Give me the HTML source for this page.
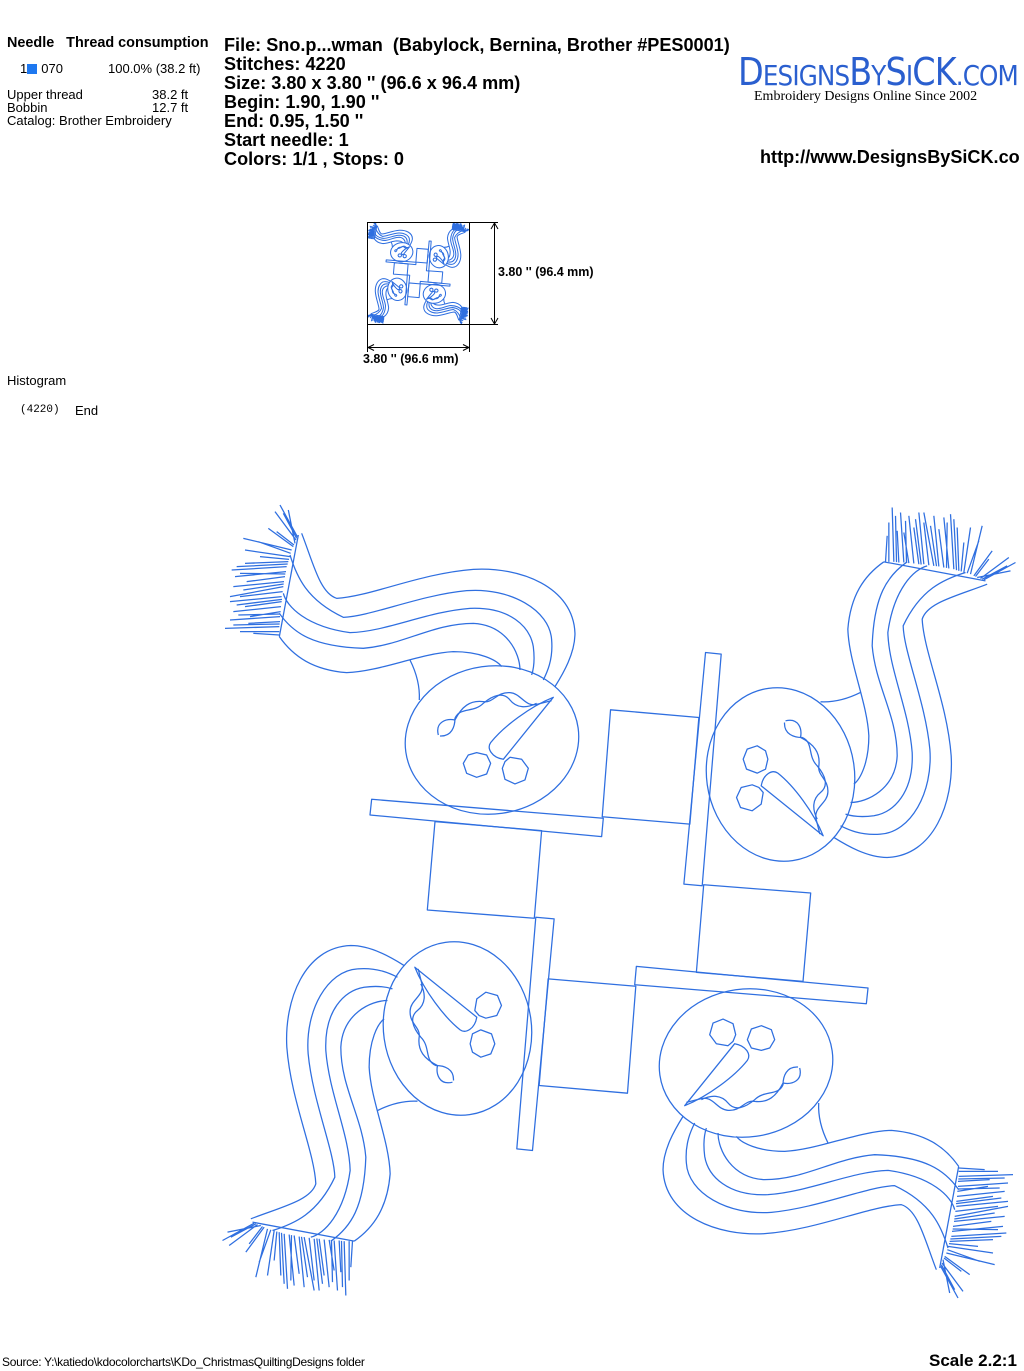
<!DOCTYPE html>
<html><head><meta charset="utf-8"><style>
body{margin:0;width:1024px;height:1370px;background:#fff;position:relative;overflow:hidden;font-family:"Liberation Sans",Arial,sans-serif;color:#000}
.a{position:absolute;white-space:nowrap}
.h{font-weight:bold;font-size:18.1px;line-height:19px}
.s{font-size:13px;line-height:13px}
</style></head><body>
<div class="a" style="left:7px;top:35px;font-size:14.4px;font-weight:bold">Needle&nbsp;&nbsp;&nbsp;Thread consumption</div>
<div class="a s" style="left:20px;top:62px">1<span style="display:inline-block;width:10px;height:10px;background:#1e78f0;vertical-align:-1px;margin-right:4px"></span>070</div>
<div class="a s" style="left:108px;top:62px">100.0% (38.2 ft)</div>
<div class="a s" style="left:7px;top:88px">Upper thread</div>
<div class="a s" style="left:152px;top:88px">38.2 ft</div>
<div class="a s" style="left:7px;top:101px">Bobbin</div>
<div class="a s" style="left:152px;top:101px">12.7 ft</div>
<div class="a s" style="left:7px;top:114px">Catalog: Brother Embroidery</div>

<div class="a h" style="left:224px;top:36px">File: Sno.p...wman&nbsp; (Babylock, Bernina, Brother #PES0001)<br>Stitches: 4220<br>Size: 3.80 x 3.80 '' (96.6 x 96.4 mm)<br>Begin: 1.90, 1.90 ''<br>End: 0.95, 1.50 ''<br>Start needle: 1<br>Colors: 1/1 , Stops: 0</div>

<div class="a" style="left:738px;top:50px;font-size:38px;color:#2a5fcf;font-family:'DejaVu Sans',sans-serif;letter-spacing:-1px;transform:scaleX(0.88);transform-origin:left">D<span style="font-size:28px">ESIGNS</span>B<span style="font-size:28px">Y</span>S<span style="font-size:28px">I</span>CK<span style="font-size:28px">.COM</span></div>
<div class="a" style="left:754px;top:89px;font-size:14px;font-family:'Liberation Serif',serif">Embroidery Designs Online Since 2002</div>
<div class="a h" style="left:760px;top:148px">http://www.DesignsBySiCK.co</div>

<div class="a" style="left:7px;top:373px;font-size:13px">Histogram</div>
<div class="a" style="left:20px;top:404px;font-size:11px;font-family:'Liberation Mono',monospace">(4220)</div>
<div class="a" style="left:75px;top:403px;font-size:13px">End</div>

<div class="a" style="left:498px;top:265px;font-size:12.5px;font-weight:bold">3.80 '' (96.4 mm)</div>
<div class="a" style="left:363px;top:352px;font-size:12.5px;font-weight:bold">3.80 '' (96.6 mm)</div>

<div class="a" style="left:2px;top:1355px;font-size:12px;letter-spacing:-0.3px">Source: Y:\katiedo\kdocolorcharts\KDo_ChristmasQuiltingDesigns folder</div>
<div class="a" style="left:929px;top:1351px;font-size:17px;font-weight:bold">Scale 2.2:1</div>

<svg class="a" style="left:0;top:0" width="1024" height="1370" viewBox="0 0 1024 1370">
<defs>
<g id="q" fill="none" stroke="#2f6fe0" stroke-linejoin="round">
 <path d="M245,100 C280,190 300,280 350,295 C450,290 600,220 760,208 C900,200 1060,260 1065,400 C1065,460 1030,520 1005,560"/>
 <path d="M210,165 C230,230 260,300 370,352 C450,350 600,285 740,272 C870,262 990,330 995,420 C1000,480 980,520 970,540"/>
 <path d="M190,280 C200,320 260,380 390,398 C500,395 620,335 750,325 C870,320 930,380 940,440 C945,480 940,510 935,525"/>
 <path d="M178,340 C220,400 280,440 430,445 C550,435 640,370 760,370 C860,375 900,460 900,510"/>
 <path d="M178,410 C220,470 280,510 380,518 C480,515 600,460 700,455 C780,455 830,480 845,500"/>
 <path d="M570,480 C590,520 600,560 598,600"/>
 <path d="M235,105 L178,410"/>
 <path d="M232,110L180,15M228,120L165,35M225,130L205,30M220,140L145,85M215,150L70,115M212,160L115,125M210,170L75,150M205,185L75,190M200,200L35,210M198,215L45,230M195,230L80,245M192,245L40,260M190,260L30,290M188,275L60,290M185,290L30,305M185,305L75,320M183,320L40,335M182,335L90,350M180,350L30,360M180,365L85,370M178,380L15,385M178,395L60,395M178,405L100,400M230,115L190,40M222,135L170,95M207,178L120,170M203,192L50,200M196,222L60,220M191,252L70,270M186,298L50,315M181,342L55,345M179,372L40,375"/>
 <ellipse cx="816" cy="720" rx="261" ry="222" transform="rotate(-8 816 720)"/>
 <path d="M1000,592 L850,778 C815,772 800,745 812,728 C850,680 930,620 1000,592Z"/>
 <path d="M655,705 C645,665 680,655 705,660 C725,620 750,600 790,605 C820,610 830,575 870,578 C905,580 915,625 955,612 L995,602"/>
 <path d="M660,708 C695,710 705,680 705,655 C720,620 760,640 790,610 C820,585 850,575 870,600 C890,625 920,625 950,610"/>
 <path d="M770,758 L800,765 L812,790 L800,822 L770,832 L740,820 L730,790 L745,765Z"/>
 <path d="M870,772 L905,778 L925,805 L915,840 L885,852 L855,838 L847,805 L855,785Z"/>
 <path d="M455,898 L1150,955 L1145,1010 L450,945Z"/>
 <path d="M645,965 L965,992 L943,1255 L622,1230Z"/>
</g>
<g id="d">
 <g transform="translate(220 500) scale(0.3333)"><use href="#q"/></g>
 <g transform="rotate(90 619 901.5)"><g transform="translate(220 500) scale(0.3333)"><use href="#q"/></g></g>
 <g transform="rotate(180 619 901.5)"><g transform="translate(220 500) scale(0.3333)"><use href="#q"/></g></g>
 <g transform="rotate(270 619 901.5)"><g transform="translate(220 500) scale(0.3333)"><use href="#q"/></g></g>
</g>
</defs>
<g stroke-width="3.8"><use href="#d"/></g>
<g transform="translate(367 222) scale(0.1286) translate(-222 -505)" stroke-width="24"><use href="#d"/></g>
<g stroke="#000" stroke-width="1" fill="none">
 <rect x="367.5" y="222.5" width="102" height="102"/>
 <path d="M469,222.5H498M469,324.5H498M494.5,224V323M367.5,325V352M469.5,325V352M369,347.5H468"/>
 <path d="M491,229L494.5,223L498,229M491,318L494.5,324L498,318M374,344.5L368,347.5L374,350.5M463,344.5L469,347.5L463,350.5"/>
</g>
</svg>
</body></html>
